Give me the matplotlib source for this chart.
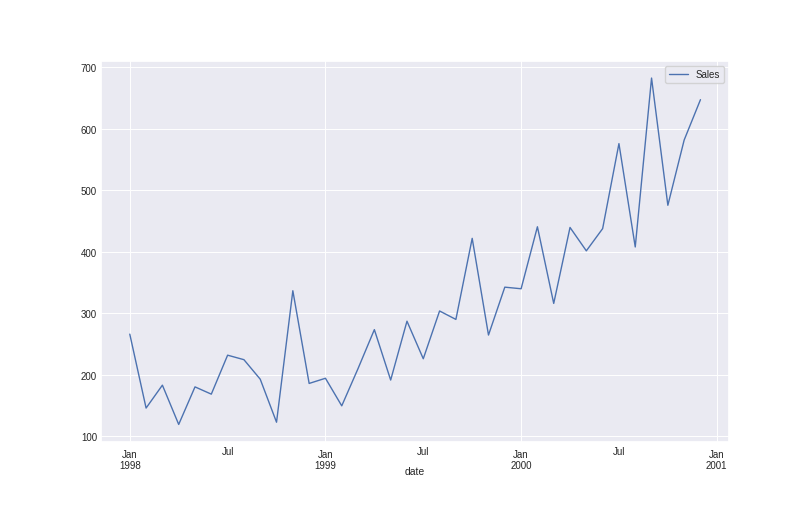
import pandas as pd
import matplotlib
matplotlib.use('Agg')
import matplotlib.pyplot as plt
import seaborn as sns

sns.set()
plt.rcParams['font.family'] = ['Liberation Sans', 'DejaVu Sans']
plt.rcParams['xtick.labelsize'] = 7
plt.rcParams['ytick.labelsize'] = 7
plt.rcParams['axes.labelsize'] = 7.5
plt.rcParams['legend.fontsize'] = 7
plt.rcParams['grid.linewidth'] = 0.7

# shampoo sales, monthly
months = pd.period_range('1998-01', periods=36, freq='M')
sales = [266.0, 145.9, 183.1, 119.3, 180.3, 168.5, 231.8, 224.5, 192.8, 122.9, 336.5, 185.9,
         194.3, 149.5, 210.1, 273.3, 191.4, 287.0, 226.0, 303.6, 289.9, 421.6, 264.5, 342.3,
         339.7, 440.4, 315.9, 439.3, 401.3, 437.4, 575.5, 407.6, 682.0, 475.3, 581.3, 646.9]

df = pd.DataFrame({'Sales': sales}, index=pd.Index(months, name='date'))

fig, ax = plt.subplots(figsize=(8.1, 5.06), dpi=100)
fig.subplots_adjust(left=0.125, right=0.9, bottom=0.125, top=0.878)
df.plot(ax=ax, lw=1.0)
# pandas pins xlim to the data; add the usual 5% margin back
x0, x1 = months[0].ordinal, months[-1].ordinal
pad = 0.05 * (x1 - x0)
ax.set_xlim(x0 - pad, x1 + pad)
ax.tick_params(axis='both', which='both', length=0, pad=3)
ax.tick_params(axis='x', which='major', pad=5)
ax.xaxis.labelpad = -3
fig.savefig('out.png', dpi=100)
